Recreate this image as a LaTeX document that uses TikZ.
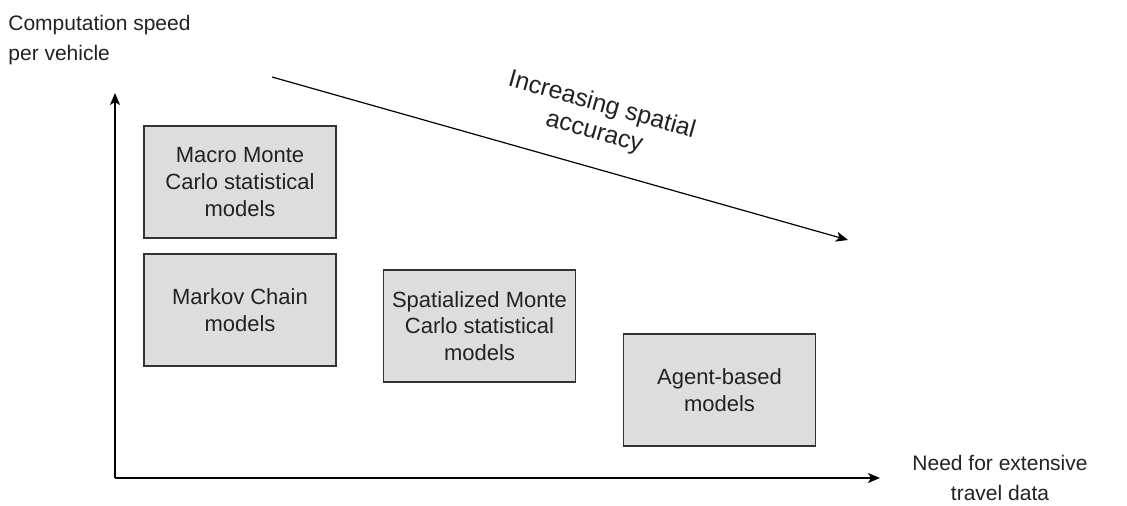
\documentclass[tikz,border=0pt]{standalone}
\usepackage{fontspec}
\setmainfont{Liberation Sans}
\usetikzlibrary{arrows.meta}
\usetikzlibrary{positioning}
\definecolor{boxfill}{HTML}{DDDDDD}
\definecolor{boxline}{HTML}{333333}
\definecolor{txt}{HTML}{222222}
\tikzset{
	modelbox/.style={draw=boxline,fill=boxfill,line width=0.75pt,inner sep=0pt,
		minimum width=96pt,minimum height=56pt,align=center,text=txt,
		font=\fontsize{11}{13.3}\selectfont},
	axislabel/.style={text=txt,inner sep=0pt,font=\fontsize{10.5}{15}\selectfont},
	axisline/.style={line width=0.75pt,draw=black,-{Stealth[length=6pt,width=5pt,inset=1.5pt]}}
}

\begin{document}
\begin{tikzpicture}[x=0.5pt,y=-0.5pt]
	\useasboundingbox (0,0) rectangle (1127,506);

	% axes
	\coordinate (origin) at (115,478);
	\coordinate (ytip) at (115,93);
	\coordinate (xtip) at (880,478);
	\draw[axisline] (origin) -- (ytip);
	\draw[axisline] (origin) -- (xtip);

	\node[axislabel,anchor=west,align=left] (ylabel) at (8,40) {Computation speed\\per vehicle};
	\node[axislabel,align=center] (xlabel) at (1000,478) {Need for extensive\\travel data};

	% model boxes
	\node[modelbox] (macro) at (240,182) {Macro Monte\\Carlo statistical\\models};
	\node[modelbox] (markov) at (240,310) {Markov Chain\\models};
	\node[modelbox] (spatial) at (479.5,326) {Spatialized Monte\\Carlo statistical\\models};
	\node[modelbox] (agent) at (719.5,390) {Agent-based\\models};

	% accuracy trend
	\coordinate (trendstart) at (272,77);
	\coordinate (trendend) at (848,240);
	\draw[axisline,line width=0.6pt] (trendstart) -- (trendend);
	\node[axislabel,align=center,rotate=-15.8,font=\fontsize{12.4}{14}\selectfont]
		(trendlabel) at (598,119) {Increasing spatial\\accuracy};

\end{tikzpicture}
\end{document}
